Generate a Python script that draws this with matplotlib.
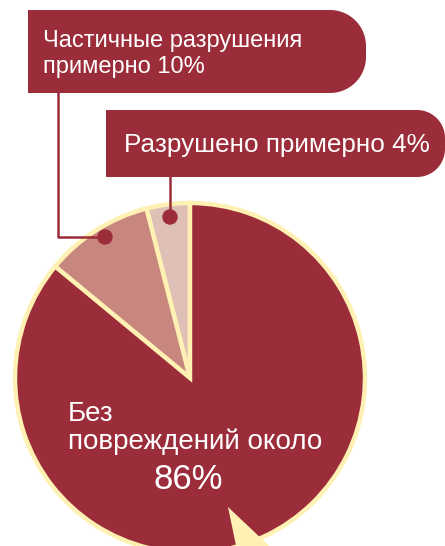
import matplotlib.pyplot as plt
import numpy as np
from matplotlib.patches import PathPatch, Polygon, Circle
from matplotlib.path import Path

plt.rcParams['font.family'] = ['Liberation Sans', 'DejaVu Sans']

# Shares of buildings by damage state
shares = [4, 10, 86]
slice_colors = ['#dfc0b7', '#c7877e', '#9b2c39']
partial_lines = ['Частичные разрушения', 'примерно 10%']
destroyed_text = 'Разрушено примерно 4%'
intact_lines = ['Без', 'повреждений около']
intact_value = '86%'

DARK = '#9b2c39'
YELLOW = '#fff1b3'
W, H = 445, 546


def Y(y):
    # image rows run downward, data y runs upward
    return H - y


def tab_box(ax, x0, y0, x1, y1, r, color):
    # box with square left corners and rounded right corners
    t1 = np.linspace(np.pi / 2, 0, 20)
    t2 = np.linspace(0, -np.pi / 2, 20)
    top, bot = Y(y0), Y(y1)
    pts = [(x0, bot), (x0, top), (x1 - r, top)]
    pts += [(x1 - r + r * np.cos(t), top - r + r * np.sin(t)) for t in t1]
    pts += [(x1 - r + r * np.cos(t), bot + r + r * np.sin(t)) for t in t2]
    pts += [(x0, bot)]
    path = Path(pts, [Path.MOVETO] + [Path.LINETO] * (len(pts) - 2) + [Path.CLOSEPOLY])
    ax.add_patch(PathPatch(path, facecolor=color, edgecolor='none', zorder=5))


def label(x, y, s, size, ha='left'):
    ax.text(x, Y(y), s, color='white', fontsize=size, ha=ha, va='baseline', zorder=6)


fig = plt.figure(figsize=(W / 100, H / 100), dpi=100)
ax = fig.add_axes([0, 0, 1, 1])

ax.pie(shares, colors=slice_colors, startangle=90, counterclock=True,
       center=(190, Y(378)), radius=175,
       wedgeprops=dict(edgecolor=YELLOW, linewidth=3.2))

# yellow pointer at the bottom
ax.add_patch(Polygon([(228, Y(507)), (239, Y(560)), (284, Y(560))],
                     closed=True, facecolor=YELLOW, edgecolor='none', zorder=4))

# callout boxes
tab_box(ax, 28, 10, 366, 93, 36, DARK)
tab_box(ax, 106, 110, 445, 177, 28, DARK)

label(43, 47, partial_lines[0], 17)
label(43, 73, partial_lines[1], 17)
label(124, 152, destroyed_text, 18.8)

# leader lines with dots
ax.plot([58, 58, 105], [Y(93), Y(237), Y(237)], color=DARK, lw=1.8, zorder=6)
ax.add_patch(Circle((105, Y(237)), 7, color=DARK, zorder=7))
ax.plot([170, 170], [Y(177), Y(217)], color=DARK, lw=1.8, zorder=6)
ax.add_patch(Circle((170, Y(217)), 7, color=DARK, zorder=7))

# label inside the large slice
label(68, 421, intact_lines[0], 20)
label(68, 449, intact_lines[1], 20)
label(188, 489, intact_value, 25, ha='center')

ax.set_xlim(0, W)
ax.set_ylim(0, H)
ax.set_aspect('equal')
ax.axis('off')

fig.savefig('out.png', dpi=100)
